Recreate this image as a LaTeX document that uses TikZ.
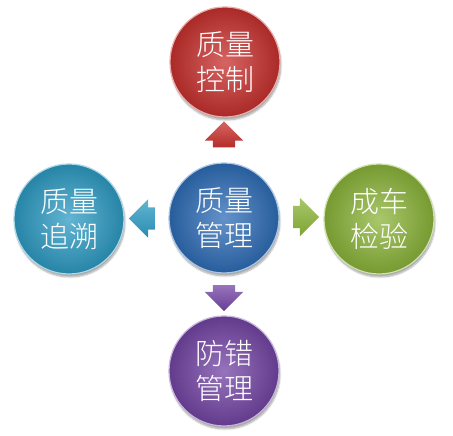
\documentclass[tikz,border=0pt]{standalone}
\usepackage{fontspec}
\newfontfamily\cjk{Noto Sans CJK SC Light}
\usetikzlibrary{shapes.arrows,shadows.blur}
\definecolor{cred}{HTML}{C8312E}
\definecolor{ccyan}{HTML}{2E9CC4}
\definecolor{cblue}{HTML}{2F6EB8}
\definecolor{cgreen}{HTML}{8CB53A}
\definecolor{cpurple}{HTML}{7445A5}
\tikzset{
  ball/.style={circle, minimum size=110pt, inner sep=0pt,
    shading=radial, inner color=#1!75!white, outer color=#1!85!black,
    draw=#1!40!white, line width=1.2pt,
    blur shadow={shadow xshift=1pt, shadow yshift=-3pt, shadow blur steps=6, shadow opacity=35},
    text=white, font=\cjk\fontsize{29}{35}\selectfont, align=center},
  blockarrow/.style={single arrow, minimum height=26pt,
    single arrow head extend=8pt, single arrow head indent=0pt, inner sep=0pt,
    shading=axis, top color=#1!75!white, bottom color=#1!90!black, shading angle=0}
}
\newcommand{\shaft}{\rule{0pt}{22pt}}
\begin{document}
\begin{tikzpicture}[x=1pt,y=1pt]
\useasboundingbox (0,0) rectangle (453,436);
\node[ball=cblue]   (center) at (224,218) {质量\\管理};
\node[ball=cred]    (top)    at (225,374) {质量\\控制};
\node[ball=ccyan]   (left)   at (69,217)  {质量\\追溯};
\node[ball=cgreen]  (right)  at (379,217) {成车\\检验};
\node[ball=cpurple] (bottom) at (224,65)  {防错\\管理};
\node[blockarrow=cred, rotate=90]     (aup)    at (224,296) {\shaft};
\node[blockarrow=cpurple, rotate=-90] (adown)  at (224,143.5) {\shaft};
\node[blockarrow=ccyan, rotate=180]   (aleft)  at (147.5,217.5) {\shaft};
\node[blockarrow=cgreen]              (aright) at (300.5,219) {\shaft};
\end{tikzpicture}
\end{document}
